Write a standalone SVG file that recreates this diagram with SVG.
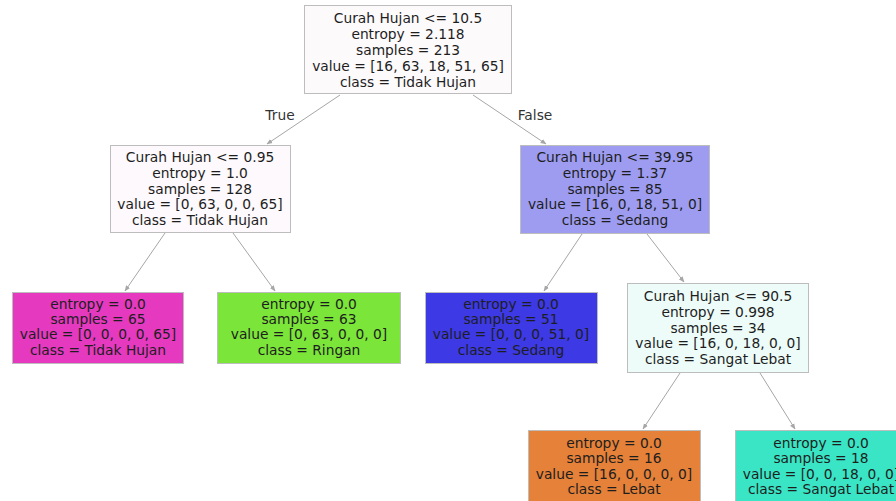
<svg xmlns="http://www.w3.org/2000/svg" width="896" height="501" viewBox="0 0 896 501">
<style>
  .box { stroke: #bdbdbd; stroke-width: 1; }
  text { font-family: "DejaVu Sans", "Liberation Sans", sans-serif; font-size: 13.8px; fill: #1e1e1e; text-anchor: middle; dominant-baseline: central; }
  .edge { stroke: #a6a6a6; stroke-width: 1; fill: none; marker-end: url(#arr); }
  .lbl { fill: #333; }
</style>
<defs>
  <marker id="arr" viewBox="0 0 10 10" refX="9" refY="5" markerWidth="6" markerHeight="6" orient="auto" markerUnits="userSpaceOnUse">
    <path d="M0,1 L10,5 L0,9 z" fill="#a6a6a6"/>
  </marker>
</defs>
<rect width="896" height="501" fill="#ffffff"/>

<g id="connectors">
  <line class="edge" x1="340" y1="95" x2="267" y2="144"/>
  <line class="edge" x1="473" y1="95" x2="546" y2="144"/>
  <line class="edge" x1="165" y1="233" x2="125" y2="291"/>
  <line class="edge" x1="233" y1="233" x2="275" y2="291"/>
  <line class="edge" x1="582" y1="234" x2="544" y2="291"/>
  <line class="edge" x1="647" y1="234" x2="684" y2="282"/>
  <line class="edge" x1="680" y1="373" x2="643" y2="429"/>
  <line class="edge" x1="760" y1="373" x2="795" y2="429"/>
  <text class="lbl" x="280" y="115">True</text>
  <text class="lbl" x="535" y="115">False</text>
</g>

<g id="n0">
  <rect class="box" x="304.5" y="5.5" width="207" height="88" fill="#fdfafc"/>
  <text x="408" y="18">Curah Hujan &lt;= 10.5</text>
  <text x="408" y="34">entropy = 2.118</text>
  <text x="408" y="50">samples = 213</text>
  <text x="408" y="66">value = [16, 63, 18, 51, 65]</text>
  <text x="408" y="82">class = Tidak Hujan</text>
</g>

<g id="n1">
  <rect class="box" x="110.5" y="145.5" width="180" height="87" fill="#fdf9fc"/>
  <text x="200" y="157">Curah Hujan &lt;= 0.95</text>
  <text x="200" y="173">entropy = 1.0</text>
  <text x="200" y="188.5">samples = 128</text>
  <text x="200" y="204">value = [0, 63, 0, 0, 65]</text>
  <text x="200" y="220">class = Tidak Hujan</text>
</g>

<g id="n2">
  <rect class="box" x="520.5" y="145.5" width="189" height="88" fill="#9d9cf0"/>
  <text x="615" y="157">Curah Hujan &lt;= 39.95</text>
  <text x="615" y="173">entropy = 1.37</text>
  <text x="615" y="188.5">samples = 85</text>
  <text x="615" y="204">value = [16, 0, 18, 51, 0]</text>
  <text x="615" y="220">class = Sedang</text>
</g>

<g id="n3">
  <rect class="box" x="12.5" y="292.5" width="171" height="71" fill="#e539c0"/>
  <text x="98" y="304">entropy = 0.0</text>
  <text x="98" y="319">samples = 65</text>
  <text x="98" y="334">value = [0, 0, 0, 0, 65]</text>
  <text x="98" y="349.5">class = Tidak Hujan</text>
</g>

<g id="n4">
  <rect class="box" x="217.5" y="292.5" width="183" height="71" fill="#7be539"/>
  <text x="309" y="304">entropy = 0.0</text>
  <text x="309" y="319">samples = 63</text>
  <text x="309" y="334">value = [0, 63, 0, 0, 0]</text>
  <text x="309" y="349.5">class = Ringan</text>
</g>

<g id="n5">
  <rect class="box" x="425.5" y="292.5" width="172" height="71" fill="#3c39e5"/>
  <text x="511" y="304">entropy = 0.0</text>
  <text x="511" y="319">samples = 51</text>
  <text x="511" y="334">value = [0, 0, 0, 51, 0]</text>
  <text x="511" y="349.5">class = Sedang</text>
</g>

<g id="n6">
  <rect class="box" x="627.5" y="283.5" width="181" height="89" fill="#edfcf9"/>
  <text x="718" y="296">Curah Hujan &lt;= 90.5</text>
  <text x="718" y="312">entropy = 0.998</text>
  <text x="718" y="327.5">samples = 34</text>
  <text x="718" y="343">value = [16, 0, 18, 0, 0]</text>
  <text x="718" y="358.5">class = Sangat Lebat</text>
</g>

<g id="n7">
  <rect class="box" x="528.5" y="430.5" width="172" height="75" fill="#e58139"/>
  <text x="614" y="443">entropy = 0.0</text>
  <text x="614" y="458">samples = 16</text>
  <text x="614" y="473.5">value = [16, 0, 0, 0, 0]</text>
  <text x="614" y="489">class = Lebat</text>
</g>

<g id="n8">
  <rect class="box" x="735.5" y="430.5" width="172" height="75" fill="#39e5c5"/>
  <text x="821" y="443">entropy = 0.0</text>
  <text x="821" y="458">samples = 18</text>
  <text x="821" y="473.5">value = [0, 0, 18, 0, 0]</text>
  <text x="821" y="489">class = Sangat Lebat</text>
</g>
</svg>
